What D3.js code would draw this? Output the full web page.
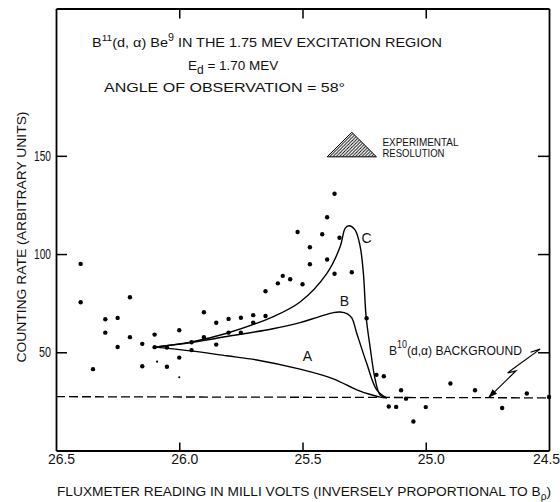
<!DOCTYPE html>
<html><head><meta charset="utf-8">
<script src="https://cdn.jsdelivr.net/npm/d3@7"></script>
<style>
body{margin:0;background:#fff}
svg{display:block}
text{font-family:"Liberation Sans",Arial,sans-serif;fill:#111}
</style>
</head><body>
<svg id="chart" width="560" height="502" xmlns="http://www.w3.org/2000/svg"></svg>
<script>
// ---------- data ----------
const xTicks = [26.5, 26.0, 25.5, 25.0, 24.5];
const xTickLabels = ["26.5", "26.0", "25.5", "25.0", "24.5"];
const innerXTicks = [26.0, 25.5, 25.0];
const yTicks = [50, 100, 150];
const yTickLabels = ["50", "100", "150"];

// measured points (fluxmeter mV, counting rate)
const pointX = [26.40,26.40,26.35,26.30,26.30,26.25,26.25,26.20,26.20,26.15,26.15,26.10,26.10,26.05,26.05,
  26.00,26.00,25.95,25.95,25.90,25.90,25.85,25.85,25.80,25.80,25.75,25.75,25.70,25.70,25.65,25.65,
  25.60,25.58,25.55,25.52,25.50,25.47,25.47,25.42,25.40,25.40,25.37,25.37,25.35,25.30,25.24,25.20,
  25.17,25.15,25.12,25.10,25.08,25.05,25.00,24.90,24.80,24.69,24.59,24.50];
const pointY = [95.0,75.5,41.4,66.8,60.0,67.5,52.7,78.0,57.7,54.3,42.9,59.0,52.6,52.4,42.6,
  61.2,47.3,55.1,51.1,70.4,57.7,65.0,53.9,67.0,60.0,67.6,60.0,68.9,65.1,81.1,68.5,
  85.1,88.9,87.2,111.2,84.6,94.8,103.5,110.1,97.2,118.7,90.0,130.7,108.3,90.7,67.3,38.5,
  37.8,22.4,22.2,30.7,26.4,14.8,22.1,34.1,30.7,21.6,29.0,27.2];
// faint specks in the original plate
const speckX = [26.09, 26.00];
const speckY = [45.2, 37.3];

// theoretical curves
const curveAx = [26.10,25.955,25.807,25.685,25.51,25.375,25.28,25.21,25.185,25.158];
const curveAy = [52.6, 50.7, 48.2, 46.1, 41.4, 36.5, 30.9, 28.0, 27.2, 26.8];
const curveBx = [26.10,25.95,25.807,25.62,25.51,25.44,25.375,25.347,25.318,25.30,25.28,25.24,25.199,25.158];
const curveBy = [52.6, 55.0, 58.0, 62.0, 65.1, 67.8, 70.2, 70.5, 69.6, 67.5, 59.7, 44.5, 30.9, 26.8];
const curveCx = [26.10,25.95,25.807,25.618,25.51,25.401,25.347,25.327,25.312,25.287,25.266,25.253,25.242,25.226,25.205,25.185,25.158];
const curveCy = [52.6, 55.3, 59.7, 68.2, 75.6, 90.2, 103.8, 113.1, 114.4, 112.3, 103.8, 90.2, 68.2, 52.9, 36.0, 28.3, 26.8];
const curveLabels = ["A", "B", "C"];
const curveLabelX = [25.48, 25.33, 25.24];
const curveLabelY = [45.5, 73.5, 105.5];

// background level (dashed)
const bgX = [26.5, 24.5];
const bgY = [27.4, 26.8];

// resolution triangle
const resX = [25.40, 25.30, 25.20];
const resY = [149.5, 162.0, 149.5];

// background arrow
const arrowX = [24.575, 24.536, 24.668, 24.634, 24.746];
const arrowY = [50.0, 51.6, 39.5, 40.5, 26.8];

// ---------- drawing ----------
const svg = d3.select("#chart");
const x = d3.scaleLinear().domain([26.5, 24.5]).range([56, 549]);
const y = d3.scaleLinear().domain([0, 225]).range([450.5, 8.5]);
const ink = "#000";
const [xl, xr] = x.range();
const [yb, yt] = y.range();

// hatch pattern
const defs = svg.append("defs");
const pat = defs.append("pattern").attr("id","hatch").attr("patternUnits","userSpaceOnUse")
  .attr("width",3.2).attr("height",3.2);
pat.append("path").attr("d","M-0.8,0.8 l1.6,-1.6 M0,3.2 l3.2,-3.2 M2.4,4 l1.6,-1.6")
  .attr("stroke",ink).attr("stroke-width",0.9);

function styleAxis(g) {
  g.attr("color", ink);
  g.selectAll(".domain").attr("stroke", ink).attr("stroke-width", 1.8);
  g.selectAll(".tick line").attr("stroke", ink).attr("stroke-width", 1.5);
}

// bottom axis (frame bottom, inward ticks, labels)
const gx = svg.append("g").attr("transform", `translate(0,${yb})`)
  .call(d3.axisBottom(x).tickValues(xTicks).tickSizeInner(-8).tickSizeOuter(0).tickPadding(0)
    .tickFormat((d,i) => xTickLabels[i]));
styleAxis(gx);
gx.selectAll(".tick line").filter(d => !innerXTicks.includes(d)).remove();
gx.selectAll("text").attr("font-size",14).attr("fill",ink)
  .attr("font-family",'"Liberation Sans",Arial,sans-serif')
  .attr("y", 13.5).attr("dy", 0)
  .attr("dx", (d,i) => i === xTicks.length-1 ? -3 : 5);

// top axis (frame top, inward ticks)
const gt = svg.append("g").attr("transform", `translate(0,${yt})`)
  .call(d3.axisTop(x).tickValues(innerXTicks).tickSizeInner(-10).tickSizeOuter(0).tickFormat(""));
styleAxis(gt);

// left axis (frame left, inward ticks, labels)
const gy = svg.append("g").attr("transform", `translate(${xl},0)`)
  .call(d3.axisLeft(y).tickValues(yTicks).tickSizeInner(-11).tickSizeOuter(0).tickPadding(5)
    .tickFormat((d,i) => yTickLabels[i]));
styleAxis(gy);
gy.selectAll("text").attr("font-size",14).attr("fill",ink)
  .attr("font-family",'"Liberation Sans",Arial,sans-serif')
  .attr("x", -5)
  .attr("textLength", (d,i) => yTickLabels[i].length === 3 ? 17 : 12)
  .attr("lengthAdjust","spacingAndGlyphs");

// right axis (frame right, inward ticks)
const gr = svg.append("g").attr("transform", `translate(${xr},0)`)
  .call(d3.axisRight(y).tickValues(yTicks).tickSizeInner(-11).tickSizeOuter(0).tickFormat(""));
styleAxis(gr);

// axis titles
svg.append("text").attr("transform","translate(26,237) rotate(-90)")
  .attr("text-anchor","middle").attr("font-size",13.5)
  .attr("textLength",251).attr("lengthAdjust","spacingAndGlyphs")
  .text("COUNTING RATE  (ARBITRARY UNITS)");
const xt = svg.append("text").attr("x",57).attr("y",496).attr("font-size",13.5)
  .attr("textLength",494).attr("lengthAdjust","spacingAndGlyphs");
xt.append("tspan").text("FLUXMETER READING IN MILLI VOLTS (INVERSELY PROPORTIONAL TO B");
xt.append("tspan").attr("font-size",10).attr("dy",4).text("ρ");
xt.append("tspan").attr("dy",-4).text(")");

// title lines
const t1 = svg.append("text").attr("x",92).attr("y",46.5).attr("font-size",13.5)
  .attr("textLength",350).attr("lengthAdjust","spacingAndGlyphs");
t1.append("tspan").text("B");
t1.append("tspan").attr("font-size",9.5).attr("dy",-6).text("11");
t1.append("tspan").attr("dy",6).text("(d, α) Be");
t1.append("tspan").attr("font-size",10).attr("dy",-6).text("9");
t1.append("tspan").attr("dy",6).text("  IN THE 1.75 MEV EXCITATION REGION");
const t2 = svg.append("text").attr("x",188).attr("y",69.5).attr("font-size",13.5);
t2.append("tspan").text("E");
t2.append("tspan").attr("font-size",12).attr("dy",4).text("d");
t2.append("tspan").attr("dy",-4).text(" = 1.70 MEV");
svg.append("text").attr("x",104).attr("y",92).attr("font-size",13.5)
  .attr("textLength",241).attr("lengthAdjust","spacingAndGlyphs")
  .text("ANGLE  OF OBSERVATION = 58°");

// resolution triangle
const triPts = resX.map((v,i)=>[x(v), y(resY[i])]);
svg.append("path").attr("d", d3.line()(triPts) + "Z").attr("fill","url(#hatch)")
  .attr("stroke",ink).attr("stroke-width",1);
svg.append("text").attr("x", x(resX[2]) + 6).attr("y", y(resY[1]) + 14).attr("font-size",11.5)
  .attr("textLength",76).attr("lengthAdjust","spacingAndGlyphs").text("EXPERIMENTAL");
svg.append("text").attr("x", x(resX[2]) + 6).attr("y", y(resY[1]) + 25).attr("font-size",11.5)
  .attr("textLength",62).attr("lengthAdjust","spacingAndGlyphs").text("RESOLUTION");

// dashed background line
svg.append("path").attr("d", d3.line().x(d=>x(d)).y((d,i)=>y(bgY[i]))(bgX))
  .attr("fill","none").attr("stroke",ink).attr("stroke-width",1.3).attr("stroke-dasharray","9,4");

// curves
const curveLine = d3.line().curve(d3.curveCatmullRom.alpha(0.5));
[[curveAx,curveAy],[curveBx,curveBy],[curveCx,curveCy]].forEach(([cx,cy]) => {
  svg.append("path").attr("d", curveLine(cx.map((v,i)=>[x(v), y(cy[i])])))
    .attr("fill","none").attr("stroke",ink).attr("stroke-width",1.4);
});
curveLabels.forEach((lab,i) => {
  svg.append("text").attr("x", x(curveLabelX[i])).attr("y", y(curveLabelY[i]))
    .attr("text-anchor","middle").attr("font-size",14).text(lab);
});

// background label and arrow
const bl = svg.append("text").attr("x",389).attr("y",355).attr("font-size",13.5)
  .attr("textLength",133).attr("lengthAdjust","spacingAndGlyphs");
bl.append("tspan").text("B");
bl.append("tspan").attr("font-size",10).attr("dy",-7).text("10");
bl.append("tspan").attr("dy",7).text("(d,α) BACKGROUND");
const arrowPts = arrowX.map((v,i)=>[x(v), y(arrowY[i])]);
svg.append("path").attr("d", d3.line()(arrowPts)).attr("fill","none").attr("stroke",ink).attr("stroke-width",1.2);
{
  const n = arrowPts.length;
  const [tx, ty] = arrowPts[n-1], [px, py] = arrowPts[n-2];
  const ang = Math.atan2(ty-py, tx-px), L = 9, W = 3.2;
  const bx = tx - L*Math.cos(ang), by = ty - L*Math.sin(ang);
  const nx = -Math.sin(ang), ny = Math.cos(ang);
  svg.append("path").attr("d", `M${tx},${ty}L${bx+W*nx},${by+W*ny}L${bx-W*nx},${by-W*ny}Z`).attr("fill",ink);
}

// data points
svg.append("g").selectAll("circle").data(pointX).join("circle")
  .attr("cx", d => x(d)).attr("cy", (d,i) => y(pointY[i])).attr("r", 2.2).attr("fill", ink);
svg.append("g").selectAll("circle").data(speckX).join("circle")
  .attr("cx", d => x(d)).attr("cy", (d,i) => y(speckY[i])).attr("r", 1.1).attr("fill", ink);
</script>
</body></html>
